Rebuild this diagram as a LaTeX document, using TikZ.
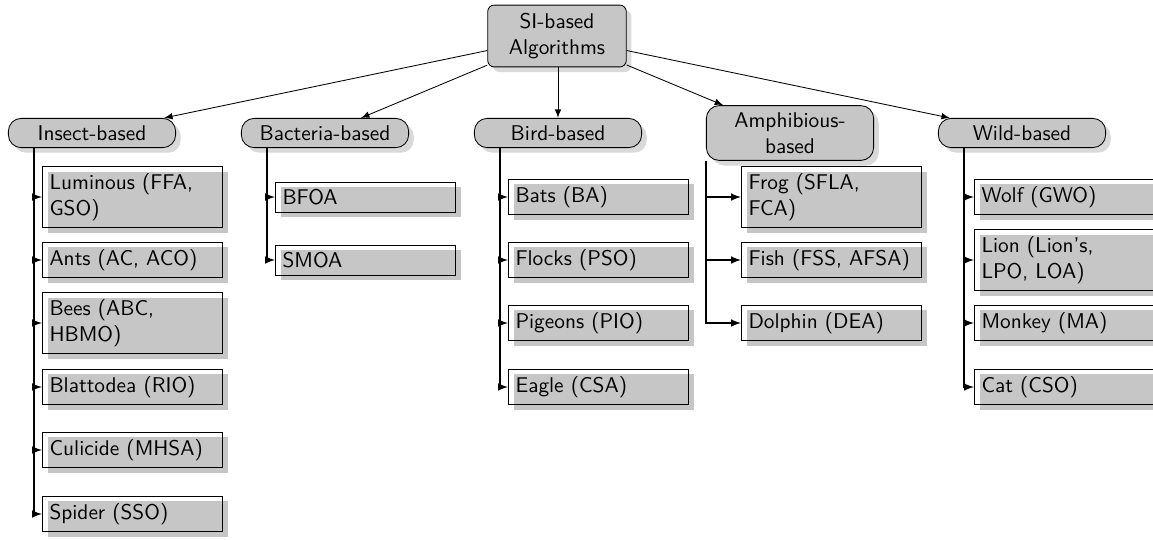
\documentclass[tikz,border=0pt]{standalone}
\usepackage{tikz}
\usetikzlibrary{shadows}
\tikzset{
	rootbox/.style={draw, rounded corners=3pt, fill=gray!45, minimum width=65pt,
		minimum height=29pt, align=center, font=\sffamily,
		drop shadow={fill=gray!30, opacity=1, shadow xshift=2.4pt, shadow yshift=-2.4pt}},
	catbox/.style={draw, rounded corners=6pt, fill=gray!45, minimum width=78.5pt,
		align=center, font=\sffamily,
		drop shadow={fill=gray!30, opacity=1, shadow xshift=2.4pt, shadow yshift=-2.4pt}},
	leafbox/.style={draw, anchor=west, text width=78pt, align=left, font=\sffamily,
		drop shadow={fill=gray!45, opacity=1, shadow xshift=2.4pt, shadow yshift=-2.4pt}},
	link/.style={-latex, semithick},
}

\begin{document}
\begin{tikzpicture}[x=0.0165cm, y=-0.0165cm]
	\useasboundingbox (0,0) rectangle (1153,539);
	% root
	\node[rootbox] (si) at (557,36) {SI-based\\Algorithms};
	% categories
	\node[catbox] (insect) at (92,133) {Insect-based};
	\node[catbox] (bacteria) at (325,133) {Bacteria-based};
	\node[catbox] (bird) at (558,133) {Bird-based};
	\node[catbox] (amphib) at (790,133) {Amphibious-\\based};
	\node[catbox] (wild) at (1022,133) {Wild-based};
	\draw[-latex] (si) -- (insect);
	\draw[-latex] (si) -- (bacteria);
	\draw[-latex] (si.south -| bird) -- (bird);
	\draw[-latex] (si) -- (amphib);
	\draw[-latex] (si) -- (wild);
	% insect-based
	\node[leafbox] (luminous) at (42,197) {Luminous (FFA,\\GSO)};
	\node[leafbox] (ants) at (42,260) {Ants (AC, ACO)};
	\node[leafbox] (bees) at (42,323) {Bees (ABC,\\HBMO)};
	\node[leafbox] (blatt) at (42,387) {Blattodea (RIO)};
	\node[leafbox] (culic) at (42,450) {Culicide (MHSA)};
	\node[leafbox] (spider) at (42,514) {Spider (SSO)};
	\foreach \leaf in {luminous,ants,bees,blatt,culic,spider}
		\draw[link] ([xshift=12.2pt]insect.south west) |- (\leaf);
	% bacteria-based
	\node[leafbox] (bfoa) at (275,197) {BFOA};
	\node[leafbox] (smoa) at (275,260) {SMOA};
	\foreach \leaf in {bfoa,smoa}
		\draw[link] ([xshift=12.2pt]bacteria.south west) |- (\leaf);
	% bird-based
	\node[leafbox] (bats) at (508,197) {Bats (BA)};
	\node[leafbox] (flocks) at (508,260) {Flocks (PSO)};
	\node[leafbox] (pigeons) at (508,323) {Pigeons (PIO)};
	\node[leafbox] (eagle) at (508,387) {Eagle (CSA)};
	\foreach \leaf in {bats,flocks,pigeons,eagle}
		\draw[link] ([xshift=12.2pt]bird.south west) |- (\leaf);
	% amphibious-based
	\node[leafbox] (frog) at (741,197) {Frog (SFLA,\\FCA)};
	\node[leafbox] (fish) at (741,260) {Fish (FSS, AFSA)};
	\node[leafbox] (dolphin) at (741,323) {Dolphin (DEA)};
	\foreach \leaf in {frog,fish,dolphin}
		\draw[link] (amphib.south west) |- (\leaf);
	% wild-based
	\node[leafbox] (wolf) at (974,197) {Wolf (GWO)};
	\node[leafbox] (lion) at (974,260) {Lion (Lion's,\\LPO, LOA)};
	\node[leafbox] (monkey) at (974,323) {Monkey (MA)};
	\node[leafbox] (cat) at (974,387) {Cat (CSO)};
	\foreach \leaf in {wolf,lion,monkey,cat}
		\draw[link] ([xshift=12.2pt]wild.south west) |- (\leaf);
\end{tikzpicture}
\end{document}
